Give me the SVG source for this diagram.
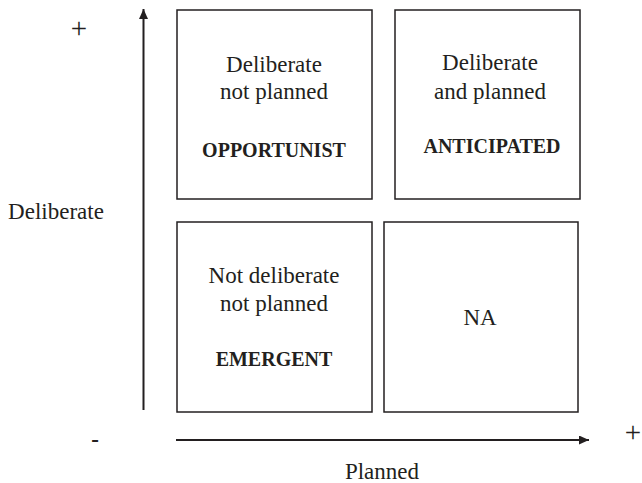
<svg xmlns="http://www.w3.org/2000/svg" width="642" height="483" viewBox="0 0 642 483">
  <style>
    .box { fill: #ffffff; stroke: #231f20; stroke-width: 1.5; }
    .axis { stroke: #231f20; stroke-width: 2; fill: none; }
    .t { font-family: "Liberation Serif", "Times New Roman", serif; font-size: 23px; fill: #231f20; text-anchor: middle; }
    .b { font-family: "Liberation Serif", "Times New Roman", serif; font-size: 20px; font-weight: bold; fill: #231f20; text-anchor: middle; }
    .sign { font-family: "Liberation Serif", "Times New Roman", serif; font-size: 29px; fill: #231f20; text-anchor: middle; }
  </style>
  <defs>
    <marker id="arrow" viewBox="0 0 10 9" refX="10" refY="4.5" markerWidth="10" markerHeight="9" markerUnits="userSpaceOnUse" orient="auto">
      <path d="M0,0 L10,4.5 L0,9 Z" fill="#231f20"/>
    </marker>
  </defs>
  <rect width="642" height="483" fill="#ffffff"/>

  <g id="connectors">
    <line class="axis" x1="143.5" y1="410" x2="143.5" y2="9" marker-end="url(#arrow)"/>
    <line class="axis" x1="176" y1="440" x2="589" y2="440" marker-end="url(#arrow)"/>
  </g>

  <g id="axis-labels">
    <text class="sign" x="79" y="38">+</text>
    <text class="t" x="56" y="219">Deliberate</text>
    <text class="t" x="95" y="447" font-weight="bold">-</text>
    <text class="sign" x="633" y="442">+</text>
    <text class="t" x="382" y="479">Planned</text>
  </g>

  <g id="opportunist">
    <rect class="box" x="177" y="10" width="195" height="189"/>
    <text class="t" x="274" y="72">Deliberate</text>
    <text class="t" x="274" y="99">not planned</text>
    <text class="b" x="274" y="157">OPPORTUNIST</text>
  </g>

  <g id="anticipated">
    <rect class="box" x="395" y="10" width="185" height="189"/>
    <text class="t" x="490" y="70">Deliberate</text>
    <text class="t" x="490" y="99">and planned</text>
    <text class="b" x="492" y="153">ANTICIPATED</text>
  </g>

  <g id="emergent">
    <rect class="box" x="177" y="222" width="195" height="190"/>
    <text class="t" x="274" y="283">Not deliberate</text>
    <text class="t" x="274" y="311">not planned</text>
    <text class="b" x="274" y="366">EMERGENT</text>
  </g>

  <g id="na">
    <rect class="box" x="384" y="222" width="194" height="190"/>
    <text class="t" x="480" y="325">NA</text>
  </g>
</svg>
